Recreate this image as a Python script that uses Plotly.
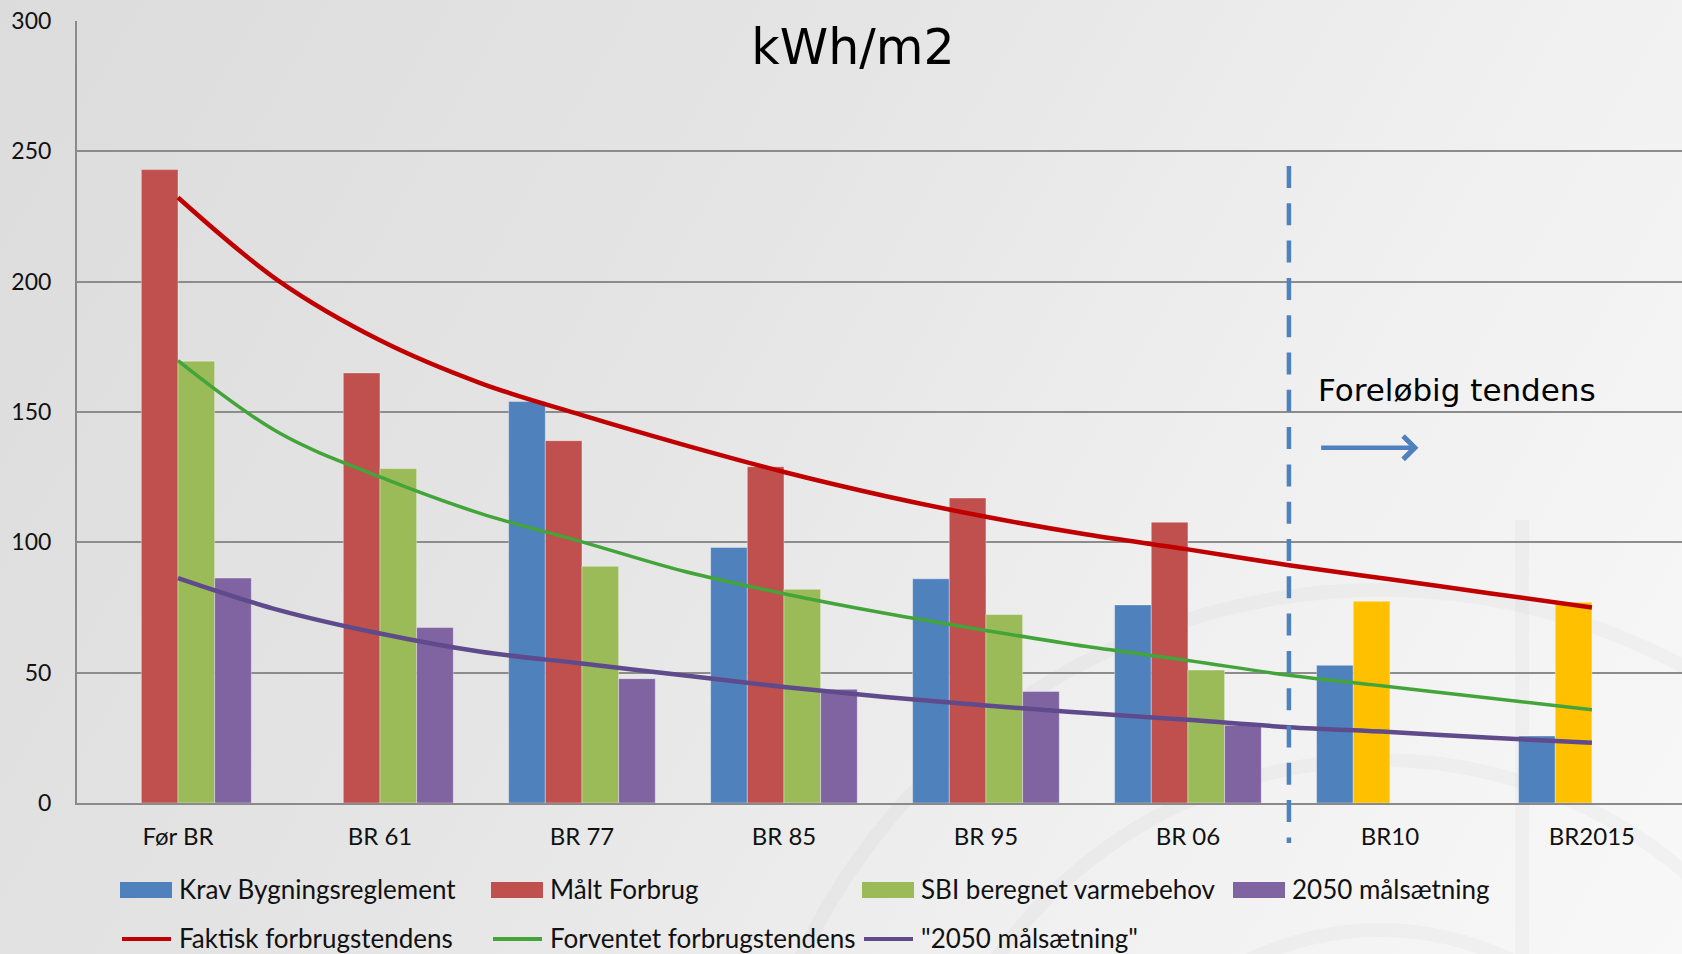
import base64

import plotly.graph_objects as go

categories = ["Før BR", "BR 61", "BR 77", "BR 85", "BR 95", "BR 06", "BR10", "BR2015"]

krav = [None, None, 154, 98, 86, 76, 52.8, 25.7]
maalt = [243, 165, 139, 129, 117, 107.7, 77.4, 77]
sbi = [169.5, 128.3, 90.8, 82, 72.3, 51, None, None]
maal_2050 = [86.3, 67.3, 47.7, 43.6, 42.8, 29.8, None, None]

trend_x = [0, 0.5, 1, 1.5, 2, 2.5, 3, 3.5, 4, 4.5, 5, 5.5, 6, 6.5, 7]
faktisk_trend = [232.3, 200.2, 177.5, 161, 148.8, 137.5, 127, 117.8, 109.8, 103, 97.3, 91.2, 85.8, 80.4, 75.0]
forventet_trend = [169.7, 142, 125.1, 111, 100.2, 89, 80.3, 72.8, 66.2, 60, 54.7, 49.0, 44.6, 40.2, 35.8]
maal_trend = [86.3, 74, 65.0, 58, 53.5, 49, 44.5, 40.7, 37.4, 34.5, 31.9, 29.1, 27.2, 25, 23.1]

bar_names = ["Krav Bygningsreglement", "Målt Forbrug", "SBI beregnet varmebehov", "2050 målsætning"]
line_names = ["Faktisk forbrugstendens", "Forventet forbrugstendens", "\"2050 målsætning\""]

BAR_COLORS = ["#4F81BD", "#C0504D", "#9BBB59", "#8064A2"]
LINE_COLORS = ["#C00000", "#43A43A", "#5F4A8B"]
YELLOW = "#FFC000"
FONT = "Lato, 'Noto Sans', sans-serif"

W, H = 1682, 954
ML, MR, MT, MB = 77, 0, 21, 151
PW, PH = W - ML - MR, H - MT - MB


def px_x(x):
    return (x - ML) / PW


def px_y(y):
    return (H - MB - y) / PH


# soft grey gradient backdrop with faint arcs, like the slide behind the chart
bg_svg = f"""<svg xmlns="http://www.w3.org/2000/svg" width="{W}" height="{H}" viewBox="0 0 {W} {H}">
<defs><linearGradient id="g" gradientUnits="userSpaceOnUse" x1="0" y1="0" x2="{W}" y2="{H}">
<stop offset="0" stop-color="#dcdcdc"/><stop offset="0.4" stop-color="#e5e5e5"/>
<stop offset="0.7" stop-color="#f0f0f0"/><stop offset="1" stop-color="#f8f8f8"/></linearGradient></defs>
<rect width="{W}" height="{H}" fill="url(#g)"/>
<g fill="none" stroke="#000" stroke-opacity="0.025" stroke-width="14">
<circle cx="1380" cy="1230" r="640"/><circle cx="1380" cy="1230" r="470"/>
<circle cx="1380" cy="1230" r="300"/><line x1="1522" y1="520" x2="1522" y2="954"/>
</g></svg>"""
bg_uri = "data:image/svg+xml;base64," + base64.b64encode(bg_svg.encode()).decode()

xs = list(range(len(categories)))
maalt_colors = [BAR_COLORS[1]] * 6 + [YELLOW] * 2

fig = go.Figure()
for name, vals, color in zip(bar_names, [krav, maalt, sbi, maal_2050],
                             [BAR_COLORS[0], maalt_colors, BAR_COLORS[2], BAR_COLORS[3]]):
    fig.add_trace(go.Bar(x=xs, y=vals, name=name, marker_color=color,
                         marker_line=dict(color="rgba(255,255,255,0.35)", width=1),
                         showlegend=False))

for name, vals, color, width in zip(line_names, [faktisk_trend, forventet_trend, maal_trend],
                                    LINE_COLORS, [4.5, 3.5, 4.5]):
    fig.add_trace(go.Scatter(x=trend_x, y=vals, name=name, mode="lines",
                             line=dict(color=color, width=width, shape="spline", smoothing=1),
                             showlegend=False))

shapes = [
    # "preliminary" divider between BR 06 and BR10
    dict(type="line", xref="x", yref="paper", x0=5.5, x1=5.5, y0=px_y(166), y1=px_y(843),
         line=dict(color="#4F81BD", width=4.5, dash="22px,15.3px"), layer="above"),
]
annotations = [
    dict(text="Foreløbig tendens", x=5.634, y=158.5, xref="x", yref="y",
         xanchor="left", yanchor="middle", showarrow=False,
         font=dict(family="DejaVu Sans", size=31, color="#000")),
    dict(text="", x=6.141, y=136.3, ax=5.652, ay=136.3, xref="x", yref="y",
         axref="x", ayref="y", showarrow=True, arrowhead=4, arrowsize=1,
         arrowwidth=4.5, arrowcolor="#4F81BD"),
]

# legend drawn by hand so the swatches get the wide Excel look
step = 371
for i, (name, color) in enumerate(zip(bar_names, BAR_COLORS)):
    x0 = 120 + step * i
    shapes.append(dict(type="rect", xref="paper", yref="paper",
                       x0=px_x(x0), x1=px_x(x0 + 52), y0=px_y(898), y1=px_y(882),
                       fillcolor=color, line=dict(width=0)))
    annotations.append(dict(text=name, x=px_x(x0 + 57), y=px_y(889), xref="paper", yref="paper",
                            xanchor="left", yanchor="middle", showarrow=False,
                            font=dict(family=FONT, size=26, color="#111")))
for i, (name, color) in enumerate(zip(line_names, LINE_COLORS)):
    x0 = 120 + step * i
    shapes.append(dict(type="line", xref="paper", yref="paper",
                       x0=px_x(x0 + 2), x1=px_x(x0 + 51), y0=px_y(939), y1=px_y(939),
                       line=dict(color=color, width=4)))
    annotations.append(dict(text=name, x=px_x(x0 + 57), y=px_y(938), xref="paper", yref="paper",
                            xanchor="left", yanchor="middle", showarrow=False,
                            font=dict(family=FONT, size=26, color="#111")))

fig.update_layout(
    width=W, height=H,
    margin=dict(l=ML, r=MR, t=MT, b=MB),
    paper_bgcolor="#e8e8e8",
    plot_bgcolor="rgba(0,0,0,0)",
    barmode="group", bargap=0.274, bargroupgap=0,
    showlegend=False,
    title=dict(text="kWh/m2", x=853 / W, y=1 - 47 / H, xref="container", yref="container",
               xanchor="center", yanchor="middle",
               font=dict(family="DejaVu Sans", size=49, color="#000")),
    images=[dict(source=bg_uri, xref="paper", yref="paper", x=px_x(0), y=px_y(0),
                 sizex=W / PW, sizey=H / PH, xanchor="left", yanchor="top",
                 sizing="stretch", layer="below")],
    shapes=shapes,
    annotations=annotations,
)
fig.update_xaxes(
    range=[-0.5, 7.446], tickvals=xs, ticktext=categories,
    showgrid=False, zeroline=False, showline=True, linecolor="#8a8a8a", linewidth=2,
    ticks="", ticklabelstandoff=11, tickfont=dict(family=FONT, size=24, color="#111"),
)
fig.update_yaxes(
    range=[0, 300], dtick=50, showgrid=True, gridcolor="#8c8c8c", gridwidth=1.5,
    zeroline=False, showline=True, linecolor="#8a8a8a", linewidth=2,
    ticks="", ticklabelstandoff=19, tickfont=dict(family=FONT, size=23, color="#111"),
)

# drop the browser's default body margin so the chart fills the window exactly
fig.write_html("out.html", config={"displayModeBar": False},
               post_script="document.body.style.margin='0';document.body.style.overflow='hidden';")
